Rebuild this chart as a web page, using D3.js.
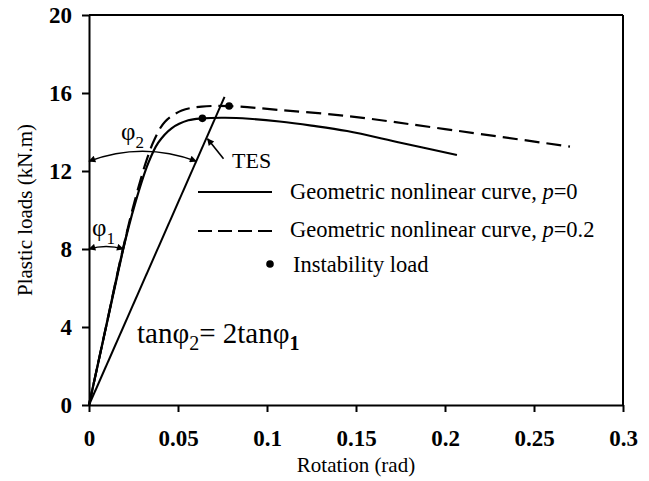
<!DOCTYPE html>
<html>
<head>
<meta charset="utf-8">
<script src="https://cdn.jsdelivr.net/npm/d3@7"></script>
<style>
  html, body { margin: 0; padding: 0; background: #fff; }
  svg { display: block; }
  text { font-family: "Liberation Serif", "Times New Roman", serif; fill: #000; }
</style>
</head>
<body>
<svg id="chart" width="649" height="481"></svg>
<script>
// Moment–rotation curves (kN.m vs rad)
const rotP0  = [0, 0.0100, 0.0184, 0.0258, 0.0333, 0.0389, 0.0464, 0.0558, 0.0637, 0.0764, 0.0900, 0.107, 0.125, 0.145, 0.175, 0.2067];
const loadP0 = [0, 4.2, 7.7, 10.3, 12.4, 13.45, 14.19, 14.60, 14.70, 14.73, 14.68, 14.54, 14.33, 14.05, 13.45, 12.82];

const rotP02  = [0, 0.0100, 0.0184, 0.0255, 0.0325, 0.0371, 0.0427, 0.0521, 0.0633, 0.0787, 0.107, 0.145, 0.200, 0.2702];
const loadP02 = [0, 4.2, 7.75, 10.4, 12.6, 13.68, 14.53, 15.10, 15.30, 15.33, 15.13, 14.82, 14.15, 13.25];

// Instability loads [rotation, load]
const instabilityP0  = [0.0637, 14.70];
const instabilityP02 = [0.0787, 15.33];

// Initial stiffness and the tangent-stiffness (TES) line, tanφ2 = 2tanφ1
const k1 = 415;
const k2 = k1 / 2;
const initialLineTop = 9;
const tesLineTop = 15.8;

const phi1Load = 8;
const phi2Load = 12.5;
const tesArrowLoad = 13.7;

const xTicks = [0, 0.05, 0.1, 0.15, 0.2, 0.25, 0.3];
const xTickLabels = ["0", "0.05", "0.1", "0.15", "0.2", "0.25", "0.3"];
const yTicks = [0, 4, 8, 12, 16, 20];
const yTickLabels = ["0", "4", "8", "12", "16", "20"];

const legendLabels = ["Geometric nonlinear curve, ", "Geometric nonlinear curve, ", "Instability load"];
const legendP = ["=0", "=0.2"];

const svg = d3.select("#chart");
const margin = { left: 89, right: 26, top: 15, bottom: 76 };
const W = 649, H = 481;

const x = d3.scaleLinear().domain([0, 0.3]).range([margin.left, W - margin.right]);
const y = d3.scaleLinear().domain([0, 20]).range([H - margin.bottom, margin.top]);

// arrowhead marker
const defs = svg.append("defs");
defs.append("marker")
  .attr("id", "arrow")
  .attr("viewBox", "0 0 10 10")
  .attr("refX", 9).attr("refY", 5)
  .attr("markerWidth", 9).attr("markerHeight", 7)
  .attr("markerUnits", "userSpaceOnUse")
  .attr("orient", "auto-start-reverse")
  .append("path").attr("d", "M0,0 L10,5 L0,10 Z").attr("fill", "#000");

// frame (top and right)
svg.append("line").attr("x1", x(0)).attr("x2", x(0.3)).attr("y1", y(20)).attr("y2", y(20))
  .attr("stroke", "#000").attr("stroke-width", 2);
svg.append("line").attr("x1", x(0.3)).attr("x2", x(0.3)).attr("y1", y(20)).attr("y2", y(0))
  .attr("stroke", "#000").attr("stroke-width", 2);

// axes
const xAxis = svg.append("g").attr("transform", `translate(0,${y(0)})`)
  .call(d3.axisBottom(x).tickValues(xTicks).tickSize(7).tickSizeOuter(0)
    .tickFormat((d, i) => xTickLabels[i]));
const yAxis = svg.append("g").attr("transform", `translate(${x(0)},0)`)
  .call(d3.axisLeft(y).tickValues(yTicks).tickSize(7).tickSizeOuter(0)
    .tickFormat((d, i) => yTickLabels[i]));

[xAxis, yAxis].forEach(g => {
  g.select(".domain").attr("stroke", "#000").attr("stroke-width", 2);
  g.selectAll(".tick line").attr("stroke", "#000").attr("stroke-width", 2);
  g.selectAll(".tick text").attr("font-family", "Liberation Serif, Times New Roman, serif")
    .attr("font-size", 23).attr("font-weight", "bold").attr("fill", "#000");
});
xAxis.selectAll(".tick text").attr("y", 41).attr("dy", 0);
yAxis.selectAll(".tick text").attr("x", -17).attr("dy", "0.34em");

// axis titles
svg.append("text").attr("x", 356).attr("y", 472).attr("text-anchor", "middle")
  .attr("font-size", 21).text("Rotation  (rad)");
svg.append("text").attr("transform", `translate(32,${y(10)}) rotate(-90)`)
  .attr("text-anchor", "middle").attr("font-size", 21).text("Plastic loads (kN.m)");

// reference lines
svg.append("line").attr("x1", x(0)).attr("y1", y(0))
  .attr("x2", x(initialLineTop / k1)).attr("y2", y(initialLineTop))
  .attr("stroke", "#000").attr("stroke-width", 2);
svg.append("line").attr("x1", x(0)).attr("y1", y(0))
  .attr("x2", x(tesLineTop / k2)).attr("y2", y(tesLineTop))
  .attr("stroke", "#000").attr("stroke-width", 2);

// curves
const line = d3.line().x(d => x(d[0])).y(d => y(d[1])).curve(d3.curveCatmullRom.alpha(0.5));
svg.append("path").datum(d3.zip(rotP0, loadP0)).attr("d", line)
  .attr("fill", "none").attr("stroke", "#000").attr("stroke-width", 2.2);
svg.append("path").datum(d3.zip(rotP02, loadP02)).attr("d", line)
  .attr("fill", "none").attr("stroke", "#000").attr("stroke-width", 2.2)
  .attr("stroke-dasharray", "15,7");

// instability points
svg.selectAll("circle.inst").data([instabilityP0, instabilityP02]).enter()
  .append("circle").attr("class", "inst")
  .attr("cx", d => x(d[0])).attr("cy", d => y(d[1])).attr("r", 3.8).attr("fill", "#000");

// angle arcs
function arc(x0, y0, x1, y1, lift) {
  const cx = (x0 + x1) / 2, cy = (y0 + y1) / 2 - lift;
  return `M${x0},${y0} Q${cx},${cy} ${x1},${y1}`;
}
svg.append("path")
  .attr("d", arc(x(0), y(phi1Load), x(phi1Load / k1), y(phi1Load), 5))
  .attr("fill", "none").attr("stroke", "#000").attr("stroke-width", 1.6)
  .attr("marker-start", "url(#arrow)").attr("marker-end", "url(#arrow)");
svg.append("path")
  .attr("d", arc(x(0), y(phi2Load), x(phi2Load / k2), y(phi2Load), 20))
  .attr("fill", "none").attr("stroke", "#000").attr("stroke-width", 1.6)
  .attr("marker-start", "url(#arrow)").attr("marker-end", "url(#arrow)");

// TES pointer
const tx = x(tesArrowLoad / k2), ty = y(tesArrowLoad);
svg.append("line").attr("x1", tx + 17).attr("y1", ty + 21).attr("x2", tx + 1).attr("y2", ty + 1)
  .attr("stroke", "#000").attr("stroke-width", 1.6).attr("marker-end", "url(#arrow)");
svg.append("text").attr("x", 232).attr("y", 168).attr("font-size", 22).text("TES");

// angle labels
function phiLabel(px, py, sub, size) {
  const t = svg.append("text").attr("x", px).attr("y", py).attr("font-size", size);
  t.append("tspan").text("φ");
  t.append("tspan").attr("font-size", size * 0.68).attr("dy", size * 0.3).text(sub);
  return t;
}
phiLabel(92, 236, "1", 25);
phiLabel(121, 140, "2", 25);

const eq = svg.append("text").attr("x", 137).attr("y", 343).attr("font-size", 29);
eq.append("tspan").text("tanφ");
eq.append("tspan").attr("font-size", 20).attr("dy", 7).text("2");
eq.append("tspan").attr("dy", -7).text("= 2tanφ");
eq.append("tspan").attr("font-size", 20).attr("dy", 7).attr("font-weight", "bold").text("1");

// legend
const lg = svg.append("g");
lg.append("line").attr("x1", 198).attr("x2", 272).attr("y1", 192).attr("y2", 192)
  .attr("stroke", "#000").attr("stroke-width", 2);
lg.append("line").attr("x1", 198).attr("x2", 272).attr("y1", 231).attr("y2", 231)
  .attr("stroke", "#000").attr("stroke-width", 2).attr("stroke-dasharray", "14,6");
lg.append("circle").attr("cx", 270).attr("cy", 264).attr("r", 3.8).attr("fill", "#000");
[[290, 199], [290, 237]].forEach((p, i) => {
  const t = lg.append("text").attr("x", p[0]).attr("y", p[1]).attr("font-size", 22.5);
  t.append("tspan").text(legendLabels[i]);
  t.append("tspan").attr("font-style", "italic").text("p");
  t.append("tspan").text(legendP[i]);
});
lg.append("text").attr("x", 293).attr("y", 272).attr("font-size", 22.5).text(legendLabels[2]);
</script>
</body>
</html>
